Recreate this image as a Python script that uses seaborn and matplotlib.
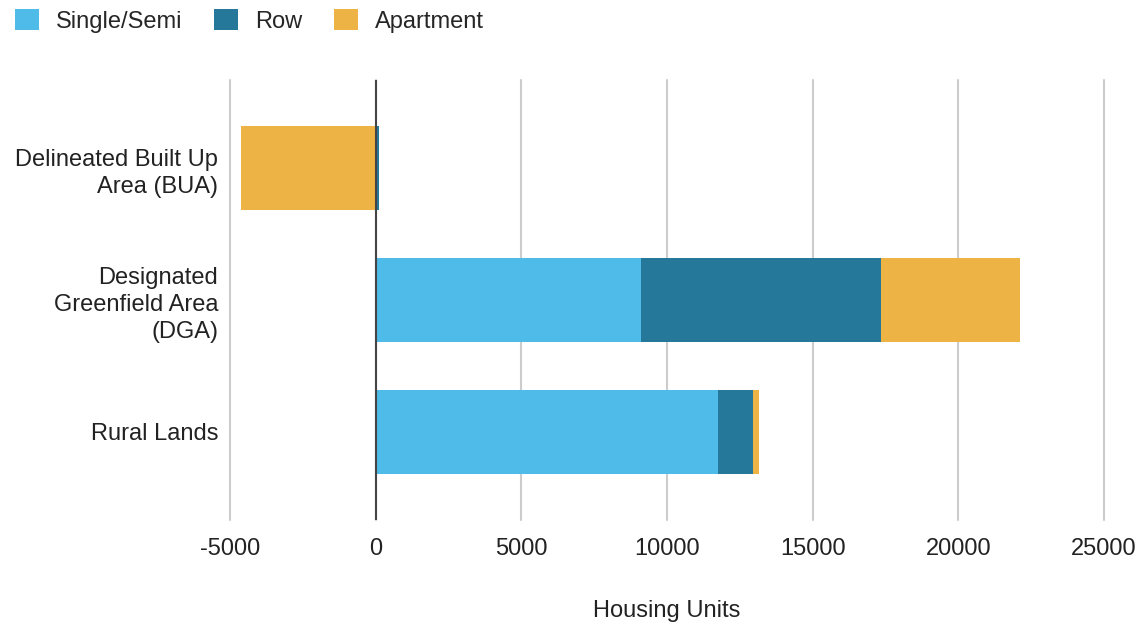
import matplotlib
matplotlib.use("Agg")
import matplotlib.pyplot as plt
from matplotlib.patches import Patch
import seaborn as sns
import pandas as pd

categories = ["Delineated Built Up\nArea (BUA)", "Designated\nGreenfield Area\n(DGA)", "Rural Lands"]
single_semi = [0, 9100, 11750]
row = [120, 8230, 1200]
apartment = [-4630, 4770, 200]
series_names = ["Single/Semi", "Row", "Apartment"]
colors = ["#4FBBE9", "#26789B", "#EDB445"]
x_ticks = [-5000, 0, 5000, 10000, 15000, 20000, 25000]

sns.set_theme(style="white")
plt.rcParams["font.family"] = ["Liberation Sans", "DejaVu Sans"]

FS = 17

# cumulative stacks (positive parts stack from zero, negatives go left from zero)
cum_single = [s for s in single_semi]
cum_row = [s + r for s, r in zip(single_semi, row)]
cum_apt = [(s + r + a) if a >= 0 else a for s, r, a in zip(single_semi, row, apartment)]

df = pd.DataFrame({"cat": categories, "single": cum_single, "row": cum_row, "apt": cum_apt})

fig = plt.figure(figsize=(11.46, 6.26), dpi=100)
ax = fig.add_axes([230/1146, 1-520/626, (1104-230)/1146, 440/626])

for ix in x_ticks:
    ax.axvline(ix, color="#cccccc", lw=1.5, zorder=0, clip_on=False)

w = 0.636
kw = dict(orient="h", width=w, ax=ax, saturation=1, linewidth=0, edgecolor="none")
sns.barplot(data=df, x="apt", y="cat", color=colors[2], zorder=2, **kw)
sns.barplot(data=df, x="row", y="cat", color=colors[1], zorder=3, **kw)
sns.barplot(data=df, x="single", y="cat", color=colors[0], zorder=4, **kw)

ax.axvline(0, color="#444444", lw=1.5, zorder=5)

ax.set_xlim(-5000, 25000)
ax.set_ylim(2.667, -0.667)
ax.set_xticks(x_ticks)
ax.set_xticklabels([str(t) for t in x_ticks], fontsize=FS, color="#222222")
ax.tick_params(axis="x", length=0, pad=13)
ax.tick_params(axis="y", length=0, pad=8.5, labelsize=FS, labelcolor="#222222")
for lbl in ax.get_yticklabels():
    lbl.set_multialignment("right")
    lbl.set_linespacing(1.3)
ax.set_ylabel("")
ax.set_xlabel("Housing Units", fontsize=FS, color="#222222", labelpad=29)
for sp in ax.spines.values():
    sp.set_visible(False)

handles = [Patch(facecolor=c, edgecolor="none") for c in colors]
fig.legend(handles, series_names, loc="upper left", bbox_to_anchor=(15/1146, 1-9/626), ncol=3,
           frameon=False, fontsize=FS, handlelength=1.0, handleheight=1.0,
           columnspacing=1.36, handletextpad=0.72, borderaxespad=0, borderpad=0)

fig.savefig("out.png", dpi=100)
